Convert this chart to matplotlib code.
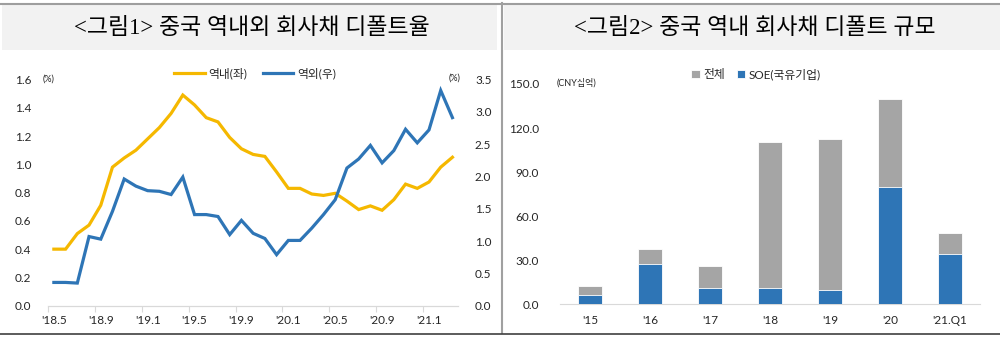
import matplotlib
matplotlib.use("Agg")
import matplotlib.pyplot as plt
from matplotlib.patches import Rectangle
from matplotlib.lines import Line2D
import numpy as np

plt.rcParams['font.family'] = ['Lato', 'Noto Sans CJK KR', 'DejaVu Sans']

# ---------------- data ----------------
months = ["'18.5", "'18.6", "'18.7", "'18.8", "'18.9", "'18.10", "'18.11", "'18.12",
          "'19.1", "'19.2", "'19.3", "'19.4", "'19.5", "'19.6", "'19.7", "'19.8",
          "'19.9", "'19.10", "'19.11", "'19.12", "'20.1", "'20.2", "'20.3", "'20.4",
          "'20.5", "'20.6", "'20.7", "'20.8", "'20.9", "'20.10", "'20.11", "'20.12",
          "'21.1", "'21.2", "'21.3"]
onshore = [0.40, 0.40, 0.51, 0.57, 0.71, 0.98, 1.045, 1.10, 1.18, 1.26, 1.36, 1.49,
           1.42, 1.33, 1.30, 1.19, 1.11, 1.07, 1.056, 0.946, 0.83, 0.83, 0.79, 0.78,
           0.795, 0.74, 0.68, 0.706, 0.675, 0.75, 0.86, 0.83, 0.875, 0.98, 1.05]
offshore = [0.36, 0.36, 0.35, 1.07, 1.03, 1.46, 1.96, 1.85, 1.78, 1.77, 1.72, 1.99,
            1.41, 1.41, 1.38, 1.10, 1.32, 1.12, 1.04, 0.79, 1.01, 1.01, 1.20, 1.41,
            1.64, 2.13, 2.27, 2.48, 2.21, 2.40, 2.73, 2.52, 2.72, 3.33, 2.91]
tick_labels_left = ["'18.5", "'18.9", "'19.1", "'19.5", "'19.9", "'20.1", "'20.5", "'20.9", "'21.1"]

years = ["'15", "'16", "'17", "'18", "'19", "'20", "'21.Q1"]
total = [12.5, 37.6, 26.3, 110.4, 112.7, 139.5, 48.3]
soe = [6.1, 27.4, 11.1, 10.9, 9.7, 80.1, 34.0]

title1 = "<그림1> 중국 역내외 회사채 디폴트율"
title2 = "<그림2> 중국 역내 회사채 디폴트 규모"

YEL = '#F5B800'
BLU = '#2E75B6'
GRY = '#A5A5A5'
TXT = '#262626'
AX = '#D9D9D9'

W, H = 1000, 338
fig = plt.figure(figsize=(W / 100, H / 100), dpi=100)
fig.patch.set_facecolor('white')

def fx(x):
    return x / W

def fy(y):
    return 1 - y / H

# ----- frame decorations -----
fig.add_artist(Rectangle((fx(2), fy(50)), fx(497) - fx(2), fy(4) - fy(50),
                         transform=fig.transFigure, facecolor='#F2F2F2', edgecolor='none', zorder=0))
fig.add_artist(Rectangle((fx(504), fy(50)), fx(1000) - fx(504), fy(4) - fy(50),
                         transform=fig.transFigure, facecolor='#F2F2F2', edgecolor='none', zorder=0))
fig.add_artist(Line2D([0, 1], [fy(3.5), fy(3.5)], transform=fig.transFigure, color='#9E9E9E', lw=1.5))
fig.add_artist(Line2D([fx(502.5), fx(502.5)], [fy(3), fy(333)], transform=fig.transFigure, color='#A0A0A0', lw=1.5))
fig.add_artist(Line2D([0, 1], [fy(333.5), fy(333.5)], transform=fig.transFigure, color='#404040', lw=1.2))

title_font = ['Liberation Serif', 'Noto Sans CJK KR']
fig.text(fx(252), fy(28), title1, ha='center', va='center', fontsize=16.5, color='black', family=title_font)
fig.text(fx(755), fy(28), title2, ha='center', va='center', fontsize=16.5, color='black', family=title_font)

# ---------------- left chart ----------------
axL = fig.add_axes([fx(48), fy(305.7), fx(458.3) - fx(48), fy(79.5) - fy(305.7)])
axR = axL.twinx()
x = np.arange(len(months))
axL.plot(x, onshore, color=YEL, lw=2.3, solid_joinstyle='miter', zorder=3)
axR.plot(x, offshore, color=BLU, lw=2.3, solid_joinstyle='miter', zorder=3)
axL.set_xlim(-0.5, len(months) - 0.5)
axL.set_ylim(0, 1.6)
axR.set_ylim(0, 3.5)
axL.set_yticks(np.arange(0, 1.61, 0.2))
axL.set_yticklabels([f"{v:.1f}" for v in np.arange(0, 1.61, 0.2)])
axR.set_yticks(np.arange(0, 3.51, 0.5))
axR.set_yticklabels([f"{v:.1f}" for v in np.arange(0, 3.51, 0.5)])
lab_pos = [months.index(m) for m in tick_labels_left]
axL.set_xticks(lab_pos)
axL.set_xticklabels(tick_labels_left)
axL.set_xticks([p - 0.5 for p in lab_pos], minor=True)
axL.tick_params(axis='x', which='major', length=0, pad=7, labelsize=8.5, labelcolor=TXT)
axL.tick_params(axis='x', which='minor', length=4, color=AX, width=0.8)
axL.tick_params(axis='y', length=0, pad=12, labelsize=8.5, labelcolor=TXT)
axR.tick_params(axis='y', length=0, pad=12, labelsize=8.5, labelcolor=TXT)
for a in (axL, axR):
    for s in ('top', 'left', 'right'):
        a.spines[s].set_visible(False)
    a.spines['bottom'].set_color(AX)
    a.patch.set_visible(False)
axL.spines['bottom'].set_linewidth(0.8)

fig.text(fx(43), fy(79), "(%)", ha='left', va='center', fontsize=6.5, color=TXT)
fig.text(fx(449), fy(78), "(%)", ha='left', va='center', fontsize=6.5, color=TXT)

h1 = Line2D([], [], color=YEL, lw=2.3)
h2 = Line2D([], [], color=BLU, lw=2.3)
fig.legend([h1, h2], ["역내(좌)", "역외(우)"], loc='center', bbox_to_anchor=(fx(255), fy(73)),
           ncol=2, frameon=False, fontsize=8.5, handlelength=2.6, handletextpad=0.3,
           columnspacing=1.3, labelcolor=TXT)

# ---------------- right chart ----------------
axB = fig.add_axes([fx(560), fy(304.3), fx(980) - fx(560), fy(84) - fy(304.3)])
xb = np.arange(len(years))
axB.bar(xb, total, width=0.4, color=GRY, edgecolor='white', linewidth=0.6, zorder=2, label='전체')
axB.bar(xb, soe, width=0.4, color=BLU, edgecolor='white', linewidth=0.6, zorder=3, label='SOE(국유기업)')
axB.set_xlim(-0.5, len(years) - 0.5)
axB.set_ylim(0, 150)
axB.set_yticks(np.arange(0, 151, 30))
axB.set_yticklabels([f"{v:.1f}" for v in np.arange(0, 151, 30)])
axB.set_xticks(xb)
axB.set_xticklabels(years)
axB.tick_params(axis='x', length=0, pad=8, labelsize=8.5, labelcolor=TXT)
axB.tick_params(axis='y', length=0, pad=15, labelsize=8.5, labelcolor=TXT)
for s in ('top', 'left', 'right'):
    axB.spines[s].set_visible(False)
axB.spines['bottom'].set_color(AX)
axB.spines['bottom'].set_linewidth(0.8)
axB.patch.set_visible(False)

fig.text(fx(557), fy(82.7), "(CNY십억)", ha='left', va='center', fontsize=6.5, color=TXT)
fig.legend(*axB.get_legend_handles_labels(), loc='center', bbox_to_anchor=(fx(756), fy(74)),
           ncol=2, frameon=False, fontsize=8.5, handlelength=0.7, handleheight=0.7,
           handletextpad=0.3, columnspacing=1.0, labelcolor=TXT)

fig.savefig('out.png', dpi=100, facecolor='white')
